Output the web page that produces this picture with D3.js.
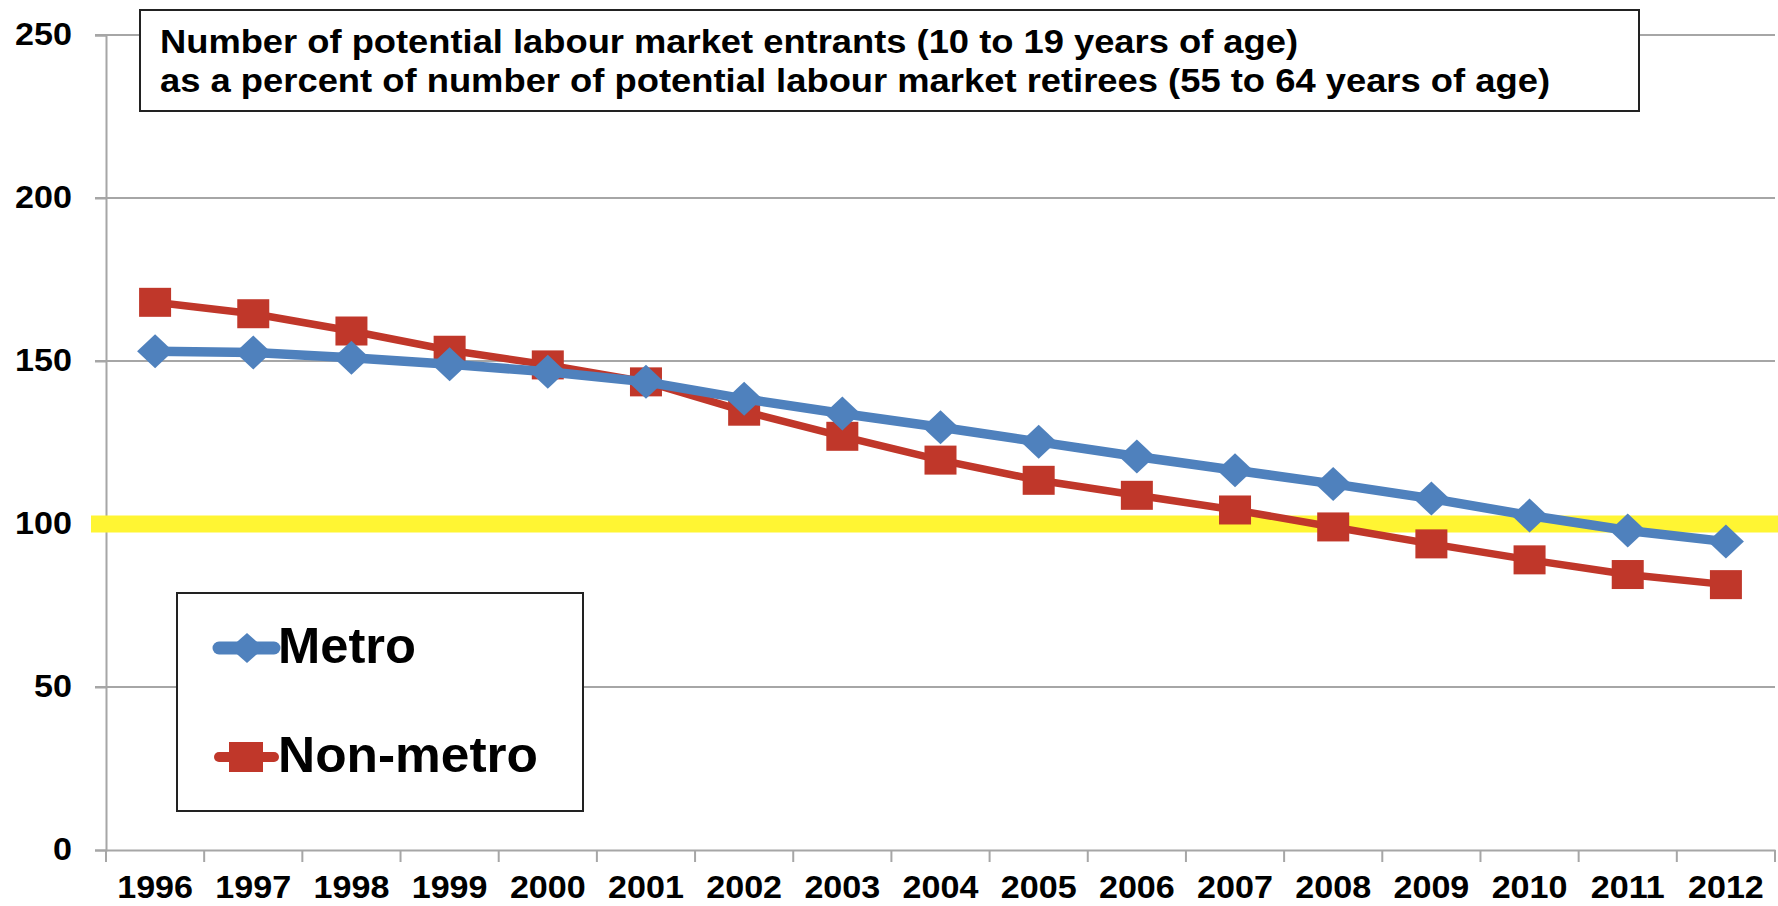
<!DOCTYPE html>
<html>
<head>
<meta charset="utf-8">
<script src="https://cdn.jsdelivr.net/npm/d3@7"></script>
<style>
  html, body { margin: 0; padding: 0; background: #fff; }
  svg { display: block; font-family: "Liberation Sans", Arial, sans-serif; }
</style>
</head>
<body>
<svg id="chart" width="1778" height="906"></svg>
<script>
const years = ["1996","1997","1998","1999","2000","2001","2002","2003","2004","2005","2006","2007","2008","2009","2010","2011","2012"];
const metro =    [153, 152.6, 151, 149, 146.7, 143.6, 138.4, 133.9, 129.7, 125.2, 120.7, 116.5, 112.3, 107.8, 102.6, 98, 94.6];
const nonMetro = [168, 164.5, 159.2, 153.3, 148.8, 143.6, 134.6, 126.9, 119.6, 113.4, 108.8, 104.3, 99.1, 93.9, 89, 84.5, 81.4];
const yTicks = [0, 50, 100, 150, 200, 250];
const referenceValue = 100;
const seriesNames = ["Metro", "Non-metro"];
const titleLines = [
  "Number of potential labour market entrants (10 to 19 years of age)",
  "as a percent of number of potential labour market retirees (55 to 64 years of age)"
];

const svg = d3.select("#chart");
const pLeft = 106, pRight = 1775, pTop = 35, pBottom = 850;
const blue = "#4f81bd", red = "#c0372a", grid = "#a6a6a6";
const stretch = 1.1;

const x = d3.scaleBand().domain(years).range([pLeft, pRight]).padding(0);
const y = d3.scaleLinear().domain([0, 250]).range([pBottom, pTop]);
const cx = d => x(d) + x.bandwidth() / 2;

// gridlines
svg.append("g").selectAll("line").data(yTicks.filter(t => t > 0)).join("line")
  .attr("x1", pLeft - 11).attr("x2", pRight)
  .attr("y1", d => y(d)).attr("y2", d => y(d))
  .attr("stroke", grid).attr("stroke-width", 2);

// y axis
const yAxis = svg.append("g").attr("transform", `translate(${pLeft},0)`)
  .call(d3.axisLeft(y).tickValues(yTicks).tickSize(11).tickPadding(20));
yAxis.select(".domain").attr("stroke", grid).attr("stroke-width", 2);
yAxis.selectAll(".tick line").attr("stroke", grid).attr("stroke-width", 2);
yAxis.selectAll(".tick text").attr("font-size", 31).attr("font-weight", "bold")
  .attr("fill", "#000").attr("font-family", "Liberation Sans, Arial, sans-serif")
  .attr("transform", `scale(${stretch},1)`);

// x axis
const xAxis = svg.append("g").attr("transform", `translate(0,${pBottom})`)
  .call(d3.axisBottom(x).tickSize(0));
xAxis.select(".domain").attr("stroke", grid).attr("stroke-width", 2);
xAxis.selectAll(".tick text").attr("font-size", 31).attr("font-weight", "bold")
  .attr("fill", "#000").attr("font-family", "Liberation Sans, Arial, sans-serif")
  .attr("y", 48).attr("dy", 0)
  .attr("transform", `scale(${stretch},1)`);
// boundary tick marks
const bounds = years.map(d => x(d)).concat([pRight]);
svg.append("g").selectAll("line").data(bounds).join("line")
  .attr("x1", d => d).attr("x2", d => d)
  .attr("y1", pBottom).attr("y2", pBottom + 12)
  .attr("stroke", grid).attr("stroke-width", 2);

// yellow reference line
svg.append("line")
  .attr("x1", 91).attr("x2", 1778)
  .attr("y1", y(referenceValue)).attr("y2", y(referenceValue))
  .attr("stroke", "#fff533").attr("stroke-width", 17);

const line = d3.line().x((d, i) => cx(years[i])).y(d => y(d));
const diamond = (w, h) => `M0,${-h}L${w},0L0,${h}L${-w},0Z`;

// Non-metro
svg.append("path").datum(nonMetro).attr("d", line)
  .attr("fill", "none").attr("stroke", red).attr("stroke-width", 7.5);
svg.append("g").selectAll("rect").data(nonMetro).join("rect")
  .attr("x", (d, i) => cx(years[i]) - 16).attr("y", d => y(d) - 14.5)
  .attr("width", 32).attr("height", 29).attr("fill", red);

// Metro
svg.append("path").datum(metro).attr("d", line)
  .attr("fill", "none").attr("stroke", blue).attr("stroke-width", 9.5);
svg.append("g").selectAll("path").data(metro).join("path")
  .attr("transform", (d, i) => `translate(${cx(years[i])},${y(d)})`)
  .attr("d", diamond(18, 17)).attr("fill", blue);

// Title box
const tb = svg.append("g");
tb.append("rect").attr("x", 140).attr("y", 10).attr("width", 1499).attr("height", 101)
  .attr("fill", "#fff").attr("stroke", "#222").attr("stroke-width", 2);
const titleWidths = [1138, 1390];
tb.selectAll("text").data(titleLines).join("text")
  .attr("x", 160).attr("y", (d, i) => 53 + i * 39)
  .attr("font-size", 33).attr("font-weight", "bold").attr("fill", "#000")
  .attr("textLength", (d, i) => titleWidths[i]).attr("lengthAdjust", "spacingAndGlyphs")
  .text(d => d);

// Legend
const lg = svg.append("g");
lg.append("rect").attr("x", 177).attr("y", 593).attr("width", 406).attr("height", 218)
  .attr("fill", "#fff").attr("stroke", "#222").attr("stroke-width", 2);
const lgY = [648, 757];
const lgBase = [663, 772];
const lgWidths = [138, 260];
const lgColors = [blue, red];
seriesNames.forEach((name, i) => {
  lg.append("line").attr("x1", 219).attr("x2", 274).attr("y1", lgY[i]).attr("y2", lgY[i])
    .attr("stroke", lgColors[i]).attr("stroke-width", i === 0 ? 13 : 10).attr("stroke-linecap", "round");
  if (i === 0) {
    lg.append("path").attr("transform", `translate(247,${lgY[i]})`).attr("d", diamond(17, 15)).attr("fill", blue);
  } else {
    lg.append("rect").attr("x", 229).attr("y", lgY[i] - 15).attr("width", 34).attr("height", 30).attr("fill", red);
  }
  lg.append("text").attr("x", 278).attr("y", lgBase[i])
    .attr("font-size", 50).attr("font-weight", "bold").attr("fill", "#000")
    .attr("textLength", lgWidths[i]).attr("lengthAdjust", "spacingAndGlyphs")
    .text(name);
});
</script>
</body>
</html>
